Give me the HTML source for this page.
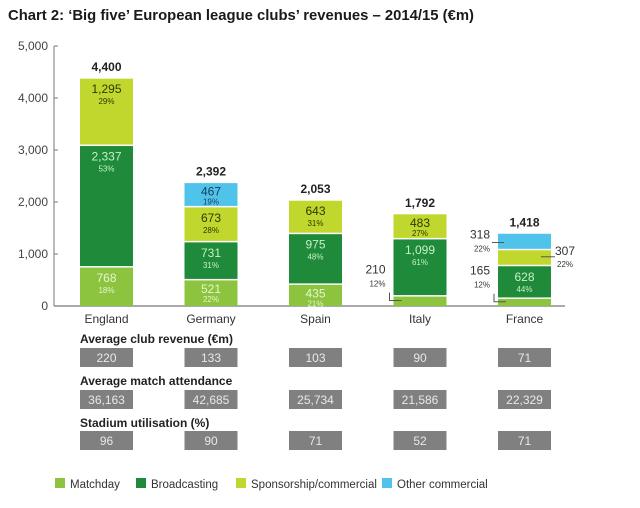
<!DOCTYPE html>
<html><head><meta charset="utf-8"><style>
body{margin:0;background:#fff;font-family:"Liberation Sans",sans-serif;}
#wrap{position:relative;width:640px;height:508px;overflow:hidden;}
</style></head><body>
<div id="wrap">
<svg id="svg" width="640" height="508">
<text x="8" y="20" font-size="15" font-weight="bold" fill="#1a1a1a" textLength="466" lengthAdjust="spacingAndGlyphs">Chart 2: ‘Big five’ European league clubs’ revenues – 2014/15 (€m)</text>
</svg>
</div>
<script>
const countries=["England","Germany","Spain","Italy","France"];
const matchday=[768,521,435,210,165];
const broadcasting=[2337,731,975,1099,628];
const sponsorship=[1295,673,643,483,307];
const other=[0,467,0,0,318];
const totals=[4400,2392,2053,1792,1418];
const pctM=["18%","22%","21%","12%","12%"];
const pctB=["53%","31%","48%","61%","44%"];
const pctS=["29%","28%","31%","27%","22%"];
const pctO=["","19%","","","22%"];
const yTicks=[0,1000,2000,3000,4000,5000];
const avgRevenue=["220","133","103","90","71"];
const attendance=["36,163","42,685","25,734","21,586","22,329"];
const utilisation=["96","90","71","52","71"];

const NS="http://www.w3.org/2000/svg";
const svg=document.getElementById('svg');
function el(t,a,txt){const e=document.createElementNS(NS,t);for(const k in a)e.setAttribute(k,a[k]);if(txt!==undefined)e.textContent=txt;svg.appendChild(e);return e;}
const y0=306,yTop=46,vmax=5000;
function y(v){return y0-(v/vmax)*(y0-yTop);}
const x0=80,step=104.5,bw=53;
function x(i){return x0+i*step;}
const colors=["#8cc43f","#1e8a3a","#c1d72e","#4fc3ea"];

let a=el('line',{x1:54,y1:46,x2:54,y2:306,stroke:'#777','stroke-width':1});

a=el('line',{x1:54,y1:306,x2:565,y2:306,stroke:'#777','stroke-width':1.2});

yTicks.forEach(v=>{
 const t=el('line',{x1:54,x2:58,y1:y(v),y2:y(v),stroke:'#777'});
 
 const l=el('text',{x:48,y:y(v)+4,'font-size':12,'text-anchor':'end',fill:'#444'},v===0?'0':v.toLocaleString('en-US'));
 
});
const series=[matchday,broadcasting,sponsorship,other];
const pcts=[pctM,pctB,pctS,pctO];
const names=['matchday','broadcasting','sponsorship','other'];
const txtCol=['#e8f5d0','#c8f0c8','#2a3a00','#1a3a5a'];
countries.forEach((c,i)=>{
 let cum=0;
 series.forEach((s,k)=>{
  const v=s[i];if(!v)return;
  const top=y(cum+v),bot=y(cum);
  const r=el('rect',{x:x(i),y:top+1.5,width:bw,height:Math.max(0,bot-top-1.5),fill:colors[k]});
  
  
  const h=bot-top, cx=x(i)+bw/2;
  if(h>20){
   const off=h>30?16:14, off2=h>30?27:23;
   const t1=el('text',{x:cx,y:top+off,'font-size':12,'text-anchor':'middle',fill:txtCol[k]},s[i].toLocaleString('en-US'));
   
   const t2=el('text',{x:cx,y:top+off2,'font-size':8,'text-anchor':'middle',fill:txtCol[k]},pcts[k][i]);
   
  } else if(k===0){
   const my=y(cum+v/2);
   const p=el('polyline',{points:`${x(i)-4},${my-8} ${x(i)-4},${my} ${x(i)+8},${my}`,fill:'none',stroke:'#555'});
   
   const t1=el('text',{x:x(i)-8,y:my-27,'font-size':12,'text-anchor':'end',fill:'#333'},s[i].toLocaleString('en-US'));
   
   const t2=el('text',{x:x(i)-8,y:my-14,'font-size':8,'text-anchor':'end',fill:'#333'},pcts[k][i]);
   
  } else if(k===2){
   const my=y(cum+v/2);
   const p=el('line',{x1:x(i)+bw-10,x2:x(i)+bw+4,y1:my,y2:my,stroke:'#555'});
   
   const t1=el('text',{x:x(i)+bw+4,y:my-2,'font-size':12,fill:'#333'},s[i].toLocaleString('en-US'));
   
   const t2=el('text',{x:x(i)+bw+6,y:my+10,'font-size':8,fill:'#333'},pcts[k][i]);
   
  } else {
   const my=y(cum+v/2)+2;
   const p=el('line',{x1:x(i)-6,x2:x(i)+6,y1:my,y2:my,stroke:'#555'});
   
   const t1=el('text',{x:x(i)-8,y:my-4,'font-size':12,'text-anchor':'end',fill:'#333'},s[i].toLocaleString('en-US'));
   
   const t2=el('text',{x:x(i)-8,y:my+9,'font-size':8,'text-anchor':'end',fill:'#333'},pcts[k][i]);
   
  }
  cum+=v;
 });
 const tt=el('text',{x:x(i)+bw/2,y:y(totals[i])-6,'font-size':12,'font-weight':'bold','text-anchor':'middle',fill:'#222'},totals[i].toLocaleString('en-US'));
 
 const cl=el('text',{x:x(i)+bw/2,y:323,'font-size':12,'text-anchor':'middle',fill:'#333'},c);
 
});
const rows=[["Average club revenue (€m)",avgRevenue,343,348],["Average match attendance",attendance,385,390],["Stadium utilisation (%)",utilisation,427,431]];
rows.forEach(r=>{
 const h=el('text',{x:80,y:r[2],'font-size':12,'font-weight':'bold',fill:'#222'},r[0]);
 
 r[1].forEach((v,i)=>{
  const b=el('rect',{x:x(i),y:r[3],width:bw,height:19,fill:'#808080'});
  
  const t=el('text',{x:x(i)+bw/2,y:r[3]+14,'font-size':12,'text-anchor':'middle',fill:'#e8e8e8'},v);
  
 });
});
const legNames=["Matchday","Broadcasting","Sponsorship/commercial","Other commercial"];
const legX=[55,136,236,382];
legNames.forEach((n,k)=>{
 const r=el('rect',{x:legX[k],y:478,width:10,height:10,fill:colors[k]});
 
 const t=el('text',{x:legX[k]+15,y:488,'font-size':11.5,fill:'#333'},n);
 
});
</script>
</body></html>
